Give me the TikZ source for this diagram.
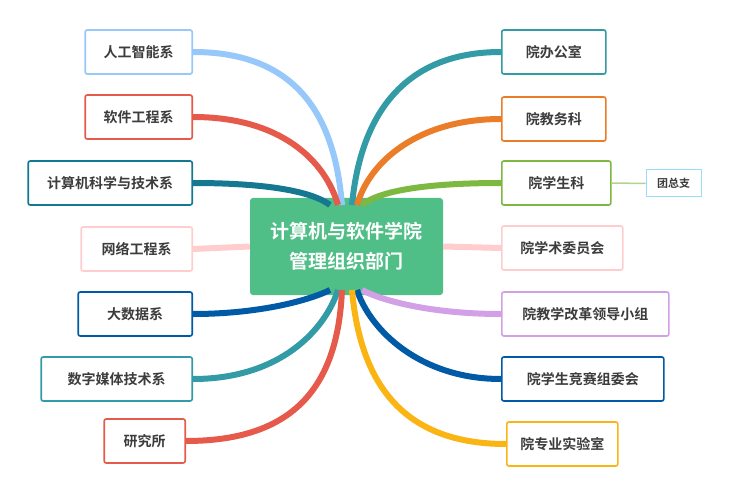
\documentclass[tikz,border=0pt]{standalone}
\usepackage{fontspec}
\setmainfont{Noto Sans CJK SC}[BoldFont={Noto Sans CJK SC Bold}]
\definecolor{cblue}{RGB}{150,200,250}
\definecolor{cred}{RGB}{230,90,75}
\definecolor{cteal}{RGB}{20,120,145}
\definecolor{cpink}{RGB}{255,205,205}
\definecolor{cnavy}{RGB}{0,90,165}
\definecolor{cteal2}{RGB}{50,155,165}
\definecolor{corange}{RGB}{235,125,40}
\definecolor{cgreen}{RGB}{125,185,65}
\definecolor{clilac}{RGB}{210,160,230}
\definecolor{cyellow}{RGB}{250,180,20}
\definecolor{ccenter}{RGB}{80,190,135}
\definecolor{ctext}{RGB}{60,60,60}
\tikzset{
  unit/.style={draw=#1, line width=1.6pt, rounded corners=2pt, fill=white,
    minimum height=44pt, inner sep=0pt, font=\bfseries\fontsize{14}{16}\selectfont, text=ctext},
  branch/.style={draw=#1, line width=6pt},
}
\begin{document}
\begin{tikzpicture}[x=1pt,y=-1pt]
  \useasboundingbox (0,0) rectangle (734,500);
  % center
  \node[fill=ccenter, rounded corners=3pt, minimum width=193pt, minimum height=97pt,
    text=white, font=\bfseries\fontsize{19}{30}\selectfont, align=center] (root) at (346.5,246.5)
    {计算机与软件学院\\管理组织部门};
  % left side
  \node[unit=cblue,   minimum width=107pt, anchor=east] (ai)  at (193,52)  {人工智能系};
  \node[unit=cred,    minimum width=107pt, anchor=east] (se)  at (193,117) {软件工程系};
  \node[unit=cteal,   minimum width=164pt, anchor=east] (cs)  at (193,183) {计算机科学与技术系};
  \node[unit=cpink,   minimum width=111pt, anchor=east] (net) at (193,249) {网络工程系};
  \node[unit=cnavy,   minimum width=114pt, anchor=east] (bd)  at (193,314) {大数据系};
  \node[unit=cteal2,  minimum width=151pt, anchor=east] (dm)  at (193,379) {数字媒体技术系};
  \node[unit=cred,    minimum width=81pt,  anchor=east] (lab) at (186,441) {研究所};
  % right side
  \node[unit=cteal2,  minimum width=104pt, anchor=west] (off) at (501,52)  {院办公室};
  \node[unit=corange, minimum width=104pt, anchor=west] (edu) at (501,119) {院教务科};
  \node[unit=cgreen,  minimum width=109pt, anchor=west] (stu) at (501,183) {院学生科};
  \node[unit=cpink,   minimum width=121pt, anchor=west] (aca) at (501,248) {院学术委员会};
  \node[unit=clilac,  minimum width=167pt, anchor=west] (ref) at (501,314) {院教学改革领导小组};
  \node[unit=cnavy,   minimum width=162pt, anchor=west] (com) at (501,379) {院学生竞赛组委会};
  \node[unit=cyellow, minimum width=111pt, anchor=west] (exp) at (506,444) {院专业实验室};
  \node[draw=cyan!40, line width=1pt, fill=white, minimum width=55pt, minimum height=27pt,
    inner sep=0pt, font=\bfseries\fontsize{11}{13}\selectfont, text=ctext] (tzz) at (673.5,183.5) {团总支};
  % branches
  \begin{scope}[on background layer/.try]
  \draw[branch=cblue]   (ai.east)  .. controls (300,52)  and (335,120) .. (342,205);
  \draw[branch=cred]    (se.east)  .. controls (280,117) and (325,160) .. (338,205);
  \draw[branch=cteal]   (cs.east)  .. controls (260,183) and (310,190) .. (330,205);
  \draw[branch=cpink]   (net.east) -- (root.west);
  \draw[branch=cnavy]   (bd.east)  .. controls (260,314) and (310,300) .. (330,290);
  \draw[branch=cteal2]  (dm.east)  .. controls (280,379) and (325,330) .. (338,290);
  \draw[branch=cred]    (lab.east) .. controls (300,441) and (338,380) .. (342,290);
  \draw[branch=cteal2]  (off.west) .. controls (400,52)  and (360,120) .. (352,205);
  \draw[branch=corange] (edu.west) .. controls (420,119) and (370,160) .. (357,205);
  \draw[branch=cgreen]  (stu.west) .. controls (430,183) and (380,190) .. (362,205);
  \draw[branch=cpink]   (aca.west) -- (root.east);
  \draw[branch=clilac]  (ref.west) .. controls (430,314) and (380,300) .. (362,290);
  \draw[branch=cnavy]   (com.west) .. controls (420,379) and (370,330) .. (357,290);
  \draw[branch=cyellow] (exp.west) .. controls (400,444) and (360,380) .. (352,290);
  \draw[draw=cgreen!60, line width=1.5pt] (stu.east) -- (tzz.west);
  \end{scope}
\end{tikzpicture}
\end{document}
